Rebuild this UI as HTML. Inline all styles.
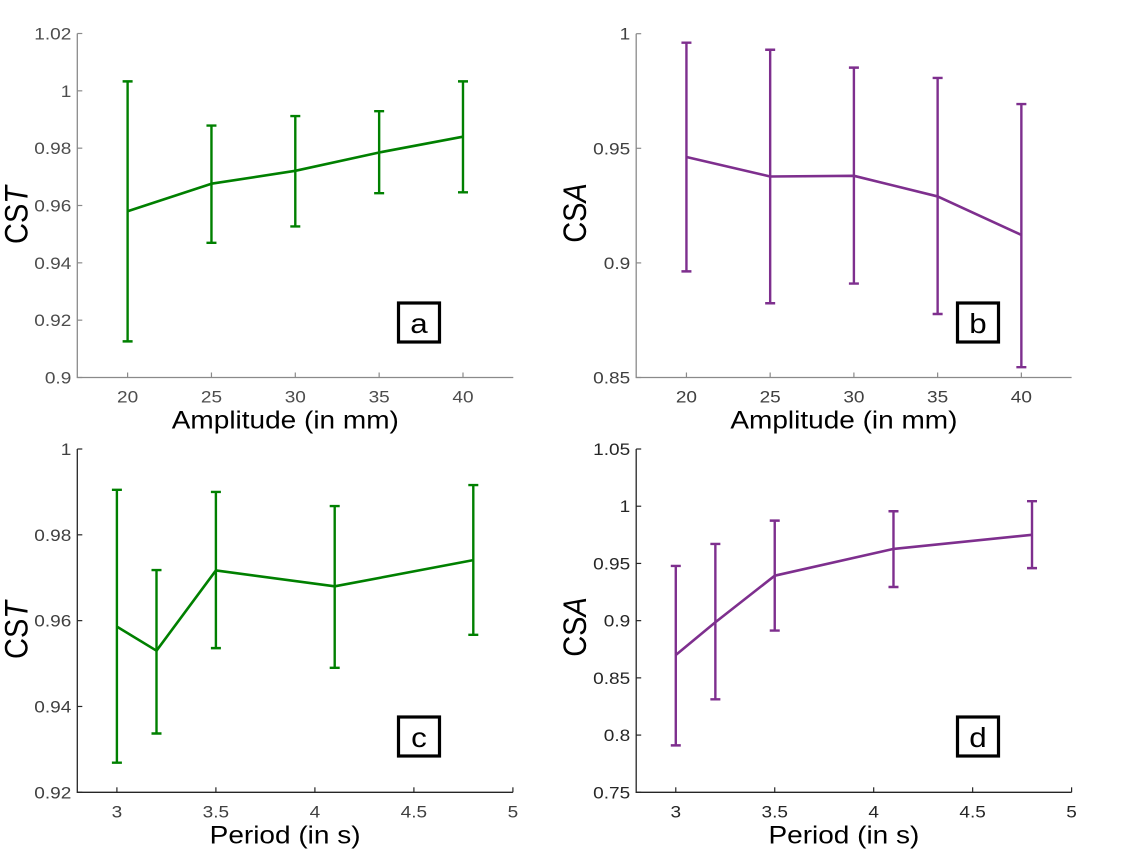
<!DOCTYPE html>
<html><head><meta charset="utf-8"><style>
body{margin:0;background:#fff;}
svg{display:block;font-family:"Liberation Sans",Arial,sans-serif;}
</style></head><body>
<svg id="fig" width="1129" height="853" viewBox="0 0 1129 853" xmlns="http://www.w3.org/2000/svg"></svg>
<script>
// Panel a
const aX = [20,25,30,35,40];
const aMean = [0.958,0.9676,0.9721,0.9785,0.984];
const aHi = [1.0033,0.9879,0.9912,0.9929,1.0033];
const aLo = [0.9126,0.947,0.9527,0.9643,0.9646];
const aTicksY = [0.9,0.92,0.94,0.96,0.98,1,1.02];
const aTickLabelsY = ["0.9","0.92","0.94","0.96","0.98","1","1.02"];
const aTicksX = [20,25,30,35,40];
// Panel b
const bX = [20,25,30,35,40];
const bMean = [0.9462,0.9377,0.938,0.929,0.9122];
const bHi = [0.9961,0.993,0.9852,0.9807,0.9693];
const bLo = [0.8963,0.8824,0.891,0.8777,0.8545];
const bTicksY = [0.85,0.9,0.95,1];
const bTickLabelsY = ["0.85","0.9","0.95","1"];
const bTicksX = [20,25,30,35,40];
// Panel c
const cX = [3,3.2,3.5,4.1,4.8];
const cMean = [0.9586,0.953,0.9717,0.968,0.9741];
const cHi = [0.9905,0.9718,0.99,0.9867,0.9916];
const cLo = [0.9269,0.9337,0.9536,0.949,0.9567];
const cTicksY = [0.92,0.94,0.96,0.98,1];
const cTickLabelsY = ["0.92","0.94","0.96","0.98","1"];
const cTicksX = [3,3.5,4,4.5,5];
const cTickLabelsX = ["3","3.5","4","4.5","5"];
// Panel d
const dX = [3,3.2,3.5,4.1,4.8];
const dMean = [0.87,0.8986,0.9393,0.9627,0.975];
const dHi = [0.9478,0.967,0.9874,0.9956,1.0044];
const dLo = [0.791,0.8313,0.8913,0.9294,0.9459];
const dTicksY = [0.75,0.8,0.85,0.9,0.95,1,1.05];
const dTickLabelsY = ["0.75","0.8","0.85","0.9","0.95","1","1.05"];
const dTicksX = [3,3.5,4,4.5,5];

const NS = "http://www.w3.org/2000/svg";
const svg = document.getElementById('fig');
function mk(tag, attrs, parent, text){
  const e = document.createElementNS(NS, tag);
  for (const k in attrs) e.setAttribute(k, attrs[k]);
  if (text !== undefined) e.textContent = text;
  (parent||svg).appendChild(e);
  return e;
}
const SX = 1.12;

function panel(o){
  const g = mk('g', {});
  
  
  const xs = v => o.L + (v - o.xmin) / (o.xmax - o.xmin) * (o.R - o.L);
  const ys = v => o.B - (v - o.ymin) / (o.ymax - o.ymin) * (o.B - o.T);
  const ax = mk('path', {d:`M${o.L},${o.T} L${o.L},${o.B} L${o.R},${o.B}`, fill:'none', stroke:o.axc, 'stroke-width':1.3}, g);
  
  
  o.ty.forEach((v,i)=>{
    const y = ys(v);
    mk('line',{x1:o.L,y1:y,x2:o.L+5,y2:y,stroke:o.axc,'stroke-width':1.2},g);
    const t = mk('text',{transform:`translate(${o.L-6},${y+6}) scale(${SX},1)`,'text-anchor':'end','font-size':17,fill:o.tc},g,o.tyl[i]);
    
    
  });
  o.tx.forEach((v,i)=>{
    const x = xs(v);
    mk('line',{x1:x,y1:o.B,x2:x,y2:o.B-5,stroke:o.axc,'stroke-width':1.2},g);
    const t = mk('text',{transform:`translate(${x},${o.B+25}) scale(${SX},1)`,'text-anchor':'middle','font-size':17,fill:o.tc},g,o.txl[i]);
    
    
  });
  const xt = mk('text',{transform:`translate(${(o.L+o.R)/2-10},${o.B+51}) scale(${SX},1)`,'text-anchor':'middle','font-size':25,fill:'#000'},g,o.xlabel);
  
  
  const yt = mk('text',{transform:`translate(${o.L-50},${o.ycen}) rotate(-90) scale(1,${SX})`,'text-anchor':'middle','font-size':29,fill:'#000'},g);
  
  
  mk('tspan',{},yt,'CS');
  mk('tspan',{'font-style':'italic'},yt,o.ylast);
  o.x.forEach((v,i)=>{
    const x = xs(v);
    const eb = mk('path',{d:`M${x},${ys(o.lo[i])} L${x},${ys(o.hi[i])} M${x-5},${ys(o.lo[i])} L${x+5},${ys(o.lo[i])} M${x-5},${ys(o.hi[i])} L${x+5},${ys(o.hi[i])}`,fill:'none',stroke:o.col,'stroke-width':2.4},g);
    
    
  });
  const pts = o.x.map((v,i)=>xs(v)+','+ys(o.mean[i])).join(' ');
  const ln = mk('polyline',{points:pts,fill:'none',stroke:o.col,'stroke-width':2.6,'stroke-linejoin':'round'},g);
  
  
  const bx = mk('rect',{x:o.bx,y:o.by,width:41,height:39,fill:'#fff',stroke:'#000','stroke-width':3.2},g);
  
  
  const bt = mk('text',{transform:`translate(${o.bx+20.5},${o.by+30}) scale(${SX},1)`,'text-anchor':'middle','font-size':28,fill:'#000'},g,o.id);
  
  
}

const grn = '#008000', pur = '#7e2f8e';
panel({id:'a',L:77.3,R:513.3,T:33.5,B:377.5,xmin:17,xmax:43,ymin:0.9,ymax:1.02,x:aX,mean:aMean,hi:aHi,lo:aLo,ty:aTicksY,tyl:aTickLabelsY,tx:aTicksX,txl:aTicksX.map(String),xlabel:'Amplitude (in mm)',ylast:'T',ycen:215,col:grn,axc:'#8a8a8a',tc:'#4d4d4d',bx:398.5,by:303});
panel({id:'b',L:636.2,R:1071.6,T:33.7,B:377.5,xmin:17,xmax:43,ymin:0.85,ymax:1,x:bX,mean:bMean,hi:bHi,lo:bLo,ty:bTicksY,tyl:bTickLabelsY,tx:bTicksX,txl:bTicksX.map(String),xlabel:'Amplitude (in mm)',ylast:'A',ycen:213,col:pur,axc:'#8a8a8a',tc:'#404040',bx:957.5,by:303});
panel({id:'c',L:77.3,R:512.9,T:449,B:792.3,xmin:2.8,xmax:5,ymin:0.92,ymax:1,x:cX,mean:cMean,hi:cHi,lo:cLo,ty:cTicksY,tyl:cTickLabelsY,tx:cTicksX,txl:cTickLabelsX,xlabel:'Period (in s)',ylast:'T',ycen:630,col:grn,axc:'#262626',tc:'#404040',bx:398.5,by:717});
panel({id:'d',L:636.2,R:1071.6,T:449,B:792.3,xmin:2.8,xmax:5,ymin:0.75,ymax:1.05,x:dX,mean:dMean,hi:dHi,lo:dLo,ty:dTicksY,tyl:dTickLabelsY,tx:dTicksX,txl:cTickLabelsX,xlabel:'Period (in s)',ylast:'A',ycen:627,col:pur,axc:'#262626',tc:'#262626',bx:957.5,by:717});
</script>
</body></html>
